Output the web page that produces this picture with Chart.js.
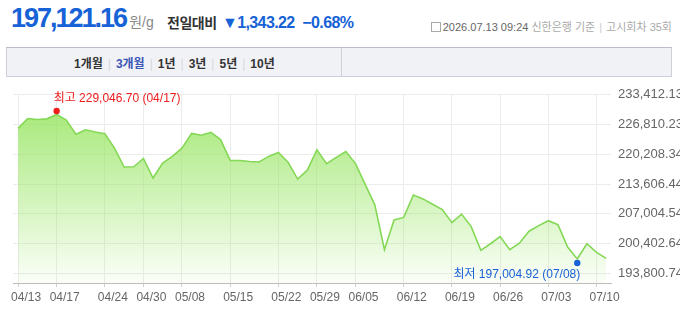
<!DOCTYPE html>
<html lang="ko">
<head>
<meta charset="UTF-8">
<title>금 시세 3개월</title>
<script src="https://cdn.jsdelivr.net/npm/chart.js"></script>
<style>
  body { margin:0; width:680px; height:312px; overflow:hidden; background:#fff; position:relative;
         font-family:"Liberation Sans","Noto Sans CJK KR",sans-serif; }
  .price { position:absolute; left:11px; top:3px; font-size:27px; font-weight:bold; color:#1662d6; letter-spacing:-2px; white-space:nowrap; }
  .price .unit { font-size:14px; color:#888; font-weight:normal; letter-spacing:0; margin-left:3px; }
  .diff { position:absolute; left:167px; top:12px; font-size:14px; font-weight:bold; color:#333; white-space:nowrap; letter-spacing:-0.5px; }
  .diff .chg { color:#1662d6; font-size:16px; margin-left:2px; letter-spacing:-0.6px; }
  .info { position:absolute; right:8px; top:18px; font-size:11px; color:#aaa; white-space:nowrap; }
  .info b { color:#666; font-weight:normal; }
  .info .ico { display:inline-block; width:8px; height:8px; border:1px solid #aaa; margin-right:2px; vertical-align:-1px; }
  .info .sep { color:#ccc; margin:0 4px; }
  .tabs { position:absolute; left:6px; top:47px; width:664px; height:28px; border:1px solid #cdd0d8; border-top-color:#b9bcc6; background:#f1f2f6; }
  .tabs .right { position:absolute; left:334px; top:0; bottom:0; border-left:1px solid #cdd0d8; }
  .tabs ul { margin:0; padding:0; list-style:none; position:absolute; left:67px; top:6px; font-size:12px; font-weight:bold; color:#333; white-space:nowrap; }
  .tabs li { display:inline-block; }
  .tabs li.on { color:#3a55b5; }
  .tabs li.bar { color:#d4d6dc; font-weight:normal; margin:0 5px; }
  .wrap { position:absolute; left:0; top:80px; width:680px; height:232px; }
</style>
</head>
<body>
  <div class="price">197,121.16<span class="unit">원/g</span></div>
  <div class="diff">전일대비 <span class="chg">▼1,343.22 &nbsp;−0.68%</span></div>
  <div class="info"><span class="ico"></span><b>2026.07.13 09:24</b> 신한은행 기준<span class="sep">|</span>고시회차 35회</div>
  <div class="tabs">
    <ul>
      <li>1개월</li><li class="bar">|</li><li class="on">3개월</li><li class="bar">|</li><li>1년</li><li class="bar">|</li><li>3년</li><li class="bar">|</li><li>5년</li><li class="bar">|</li><li>10년</li>
    </ul>
    <div class="right"></div>
  </div>
  <div class="wrap"><canvas id="grafico" width="680" height="232"></canvas></div>

<script>
  // 고시 일자 (영업일)
  const dates = [
    "04/13","04/14","04/15","04/16","04/17","04/20","04/21","04/22","04/23","04/24",
    "04/27","04/28","04/29","04/30","05/04","05/06","05/07","05/08","05/11","05/12",
    "05/13","05/14","05/15","05/18","05/19","05/20","05/21","05/22","05/26","05/27",
    "05/28","05/29","06/01","06/02","06/04","06/05","06/08","06/09","06/10","06/11",
    "06/12","06/15","06/16","06/17","06/18","06/19","06/22","06/23","06/24","06/25",
    "06/26","06/29","06/30","07/01","07/02","07/03","07/06","07/07","07/08","07/09",
    "07/10","07/13"
  ];

  // 원/g 시세
  const prices = [
    225955, 228150, 227930, 228080, 229046.70, 227800, 224680, 225650, 225170, 224800,
    221570, 217400, 217450, 219300, 214950, 218280, 219750, 221570, 224860, 224450,
    225080, 223480, 218870, 218850, 218620, 218520, 219750, 220650, 218450, 214720,
    216700, 221220, 218150, 219530, 220840, 218150, 213540, 209000, 199070, 205650,
    206220, 211200, 210320, 209150, 207970, 205050, 206960, 204180, 198910, 200380,
    201980, 199070, 200510, 203150, 204400, 205490, 204610, 199640, 197004.92, 200380,
    198464.38, 197121.16
  ];

  const xTickDates = ["04/13","04/17","04/24","04/30","05/08","05/15","05/22","05/29",
                      "06/05","06/12","06/19","06/26","07/03","07/10"];
  const yTicks = [193800.74, 200402.64, 207004.54, 213606.44, 220208.34, 226810.23, 233412.13];
  const yMin = 191670;
  const yMax = 233412.13;

  const fmt = v => v.toLocaleString("en-US", { minimumFractionDigits: 2, maximumFractionDigits: 2 });

  Chart.defaults.font.family = '"Liberation Sans","Noto Sans CJK KR",sans-serif';

  // 최고/최저 표시
  const highLow = {
    id: "highLow",
    afterDatasetsDraw(chart) {
      const ctx = chart.ctx;
      const xs = chart.scales.x, ys = chart.scales.y;
      const hi = prices.indexOf(Math.max(...prices));
      const lo = prices.indexOf(Math.min(...prices));
      const marks = [
        { i: hi, color: "#f01d1d", txt: "최고 ", dy: -3.5, ty: -12 },
        { i: lo, color: "#1a62d6", txt: "최저 ", dy: 4, ty: 12 }
      ];
      ctx.save();
      ctx.font = '12px "Liberation Sans","Noto Sans CJK KR",sans-serif';
      ctx.textBaseline = "middle";
      marks.forEach(m => {
        const x = xs.getPixelForValue(m.i);
        const y = ys.getPixelForValue(prices[m.i]) + m.dy;
        ctx.fillStyle = m.color;
        ctx.beginPath();
        ctx.arc(x, y, 3.2, 0, Math.PI * 2);
        ctx.fill();
        const left = x < (chart.chartArea.left + chart.chartArea.right) / 2;
        ctx.textAlign = left ? "left" : "right";
        ctx.fillText(m.txt + fmt(prices[m.i]) + " (" + dates[m.i] + ")", left ? x - 3 : x + 3, y + m.ty);
      });
      ctx.restore();
    }
  };

  new Chart(document.getElementById("grafico"), {
    type: "line",
    data: {
      labels: dates,
      datasets: [{
        data: prices,
        borderColor: "#84d856",
        borderWidth: 1.6,
        pointRadius: 0,
        tension: 0,
        fill: "start",
        backgroundColor: c => {
          const a = c.chart.chartArea;
          if (!a) return "rgba(150,229,95,0.5)";
          const g = c.chart.ctx.createLinearGradient(0, a.top, 0, a.bottom);
          g.addColorStop(0, "rgba(150,229,95,0.9)");
          g.addColorStop(1, "rgba(150,229,95,0.04)");
          return g;
        }
      }]
    },
    options: {
      responsive: false,
      animation: false,
      layout: { padding: { left: 8, top: 13, right: 0, bottom: 0 } },
      plugins: { legend: { display: false }, tooltip: { enabled: false } },
      scales: {
        x: {
          offset: true,
          afterBuildTicks: s => { s.ticks = s.ticks.filter(t => xTickDates.includes(dates[t.value])); },
          afterFit: s => { s.height = 29; },
          grid: { color: "#ececec", tickColor: "#cfcfcf", tickLength: 4 },
          border: { color: "#bdbdbd" },
          ticks: { autoSkip: false, maxRotation: 0, labelOffset: 8, padding: 3, color: "#666", font: { size: 12 } }
        },
        y: {
          position: "right",
          min: yMin,
          max: yMax,
          afterBuildTicks: s => { s.ticks = yTicks.map(v => ({ value: v })); },
          afterFit: s => { s.width = 69; },
          grid: { color: "#ececec", drawTicks: false },
          border: { display: false },
          ticks: { padding: 7, color: "#666", font: { size: 13 }, callback: v => fmt(v) }
        }
      }
    },
    plugins: [highLow]
  });
</script>
</body>
</html>
